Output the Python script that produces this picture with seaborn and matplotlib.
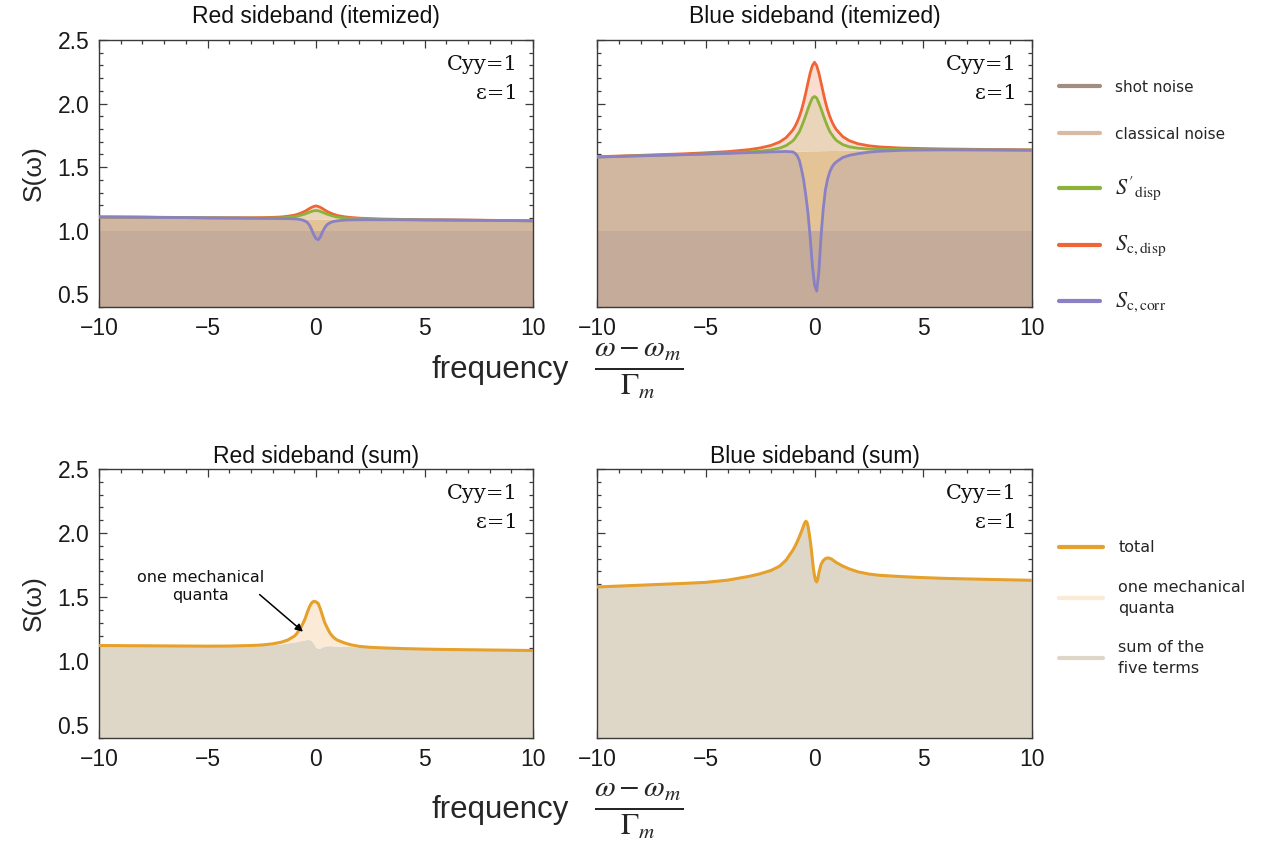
import numpy as np
import matplotlib
matplotlib.use("Agg")
import matplotlib.pyplot as plt
import seaborn as sns
from matplotlib.lines import Line2D
from matplotlib.ticker import MultipleLocator

sns.set_style("white")
plt.rcParams['font.family'] = ['Liberation Sans', 'DejaVu Sans']
plt.rcParams['mathtext.fontset'] = 'stix'
plt.rcParams['axes.unicode_minus'] = True

# ---------------- data ----------------
freq = [-10, -8, -6, -5, -4, -3, -2.5, -2, -1.6, -1.3,
        -1.0, -0.9, -0.8, -0.7, -0.6, -0.5, -0.4, -0.3, -0.2, -0.1,
        0.0, 0.1, 0.2, 0.3, 0.4, 0.5, 0.6, 0.7, 0.8, 0.9,
        1.0, 1.3, 1.6, 2.0, 2.5, 3, 4, 5, 6, 8, 10]

shot_level = 1.0

# Red sideband (itemized)
red_classical = [1.108, 1.106, 1.103, 1.101, 1.100, 1.098, 1.097, 1.096, 1.095, 1.095,
                 1.094, 1.094, 1.094, 1.094, 1.094, 1.093, 1.093, 1.093, 1.093, 1.093,
                 1.093, 1.093, 1.093, 1.092, 1.092, 1.092, 1.092, 1.092, 1.092, 1.092,
                 1.091, 1.091, 1.091, 1.090, 1.089, 1.088, 1.087, 1.085, 1.084, 1.081, 1.078]
red_sdisp_prime = [1.108, 1.106, 1.103, 1.101, 1.100, 1.099, 1.099, 1.100, 1.101, 1.105,
                   1.110, 1.113, 1.117, 1.122, 1.127, 1.132, 1.139, 1.146, 1.152, 1.157,
                   1.159, 1.157, 1.152, 1.145, 1.138, 1.131, 1.125, 1.120, 1.115, 1.111,
                   1.107, 1.101, 1.097, 1.094, 1.091, 1.089, 1.087, 1.085, 1.084, 1.081, 1.078]
red_sc_disp = [1.108, 1.107, 1.104, 1.102, 1.102, 1.102, 1.103, 1.105, 1.108, 1.114,
               1.122, 1.127, 1.132, 1.139, 1.146, 1.154, 1.164, 1.175, 1.184, 1.191,
               1.195, 1.191, 1.184, 1.174, 1.163, 1.153, 1.144, 1.137, 1.130, 1.125,
               1.119, 1.110, 1.104, 1.099, 1.095, 1.092, 1.089, 1.086, 1.085, 1.082, 1.078]
red_sc_corr = [1.108, 1.106, 1.103, 1.101, 1.100, 1.098, 1.097, 1.096, 1.095, 1.095,
               1.093, 1.092, 1.090, 1.087, 1.083, 1.076, 1.065, 1.043, 1.008, 0.968,
               0.938, 0.929, 0.951, 0.991, 1.023, 1.046, 1.058, 1.067, 1.072, 1.076,
               1.078, 1.083, 1.085, 1.086, 1.086, 1.086, 1.086, 1.085, 1.084, 1.081, 1.078]

# Blue sideband (itemized)
blue_classical = [1.580, 1.590, 1.599, 1.604, 1.609, 1.615, 1.618, 1.621, 1.623, 1.625,
                  1.626, 1.626, 1.627, 1.627, 1.627, 1.628, 1.628, 1.628, 1.628, 1.629,
                  1.629, 1.629, 1.629, 1.630, 1.630, 1.630, 1.630, 1.631, 1.631, 1.631,
                  1.631, 1.632, 1.633, 1.634, 1.635, 1.636, 1.637, 1.637, 1.637, 1.636, 1.634]
blue_sdisp_prime = [1.580, 1.590, 1.599, 1.604, 1.611, 1.620, 1.626, 1.636, 1.650, 1.670,
                    1.706, 1.726, 1.752, 1.777, 1.817, 1.861, 1.908, 1.958, 2.004, 2.044,
                    2.056, 2.044, 2.005, 1.960, 1.910, 1.863, 1.820, 1.781, 1.756, 1.731,
                    1.711, 1.677, 1.660, 1.649, 1.643, 1.641, 1.639, 1.637, 1.637, 1.636, 1.634]
blue_sc_disp = [1.582, 1.593, 1.605, 1.613, 1.622, 1.638, 1.651, 1.671, 1.698, 1.733,
                1.791, 1.819, 1.854, 1.896, 1.948, 2.012, 2.085, 2.164, 2.240, 2.298,
                2.325, 2.298, 2.241, 2.166, 2.087, 2.014, 1.951, 1.900, 1.858, 1.824,
                1.796, 1.740, 1.708, 1.684, 1.668, 1.659, 1.650, 1.646, 1.643, 1.639, 1.636]
blue_sc_corr = [1.579, 1.589, 1.598, 1.603, 1.608, 1.614, 1.617, 1.620, 1.622, 1.623,
                1.620, 1.610, 1.592, 1.555, 1.485, 1.400, 1.280, 1.140, 0.950, 0.730,
                0.575, 0.525, 0.675, 0.955, 1.170, 1.320, 1.405, 1.462, 1.500, 1.525,
                1.541, 1.576, 1.593, 1.606, 1.618, 1.625, 1.632, 1.635, 1.636, 1.635, 1.633]

# Red sideband (sum)
red_total = [1.122, 1.120, 1.118, 1.117, 1.118, 1.122, 1.126, 1.135, 1.148, 1.165,
             1.195, 1.212, 1.236, 1.262, 1.295, 1.332, 1.382, 1.425, 1.455, 1.467,
             1.463, 1.450, 1.408, 1.355, 1.302, 1.266, 1.232, 1.206, 1.187, 1.173,
             1.163, 1.143, 1.128, 1.115, 1.108, 1.104, 1.098, 1.094, 1.091, 1.087, 1.083]
red_five_terms = [1.120, 1.118, 1.116, 1.115, 1.116, 1.119, 1.122, 1.128, 1.135, 1.142,
                  1.150, 1.153, 1.156, 1.160, 1.163, 1.166, 1.169, 1.168, 1.158, 1.135,
                  1.108, 1.097, 1.103, 1.112, 1.118, 1.120, 1.121, 1.120, 1.119, 1.118,
                  1.117, 1.116, 1.114, 1.111, 1.106, 1.102, 1.096, 1.092, 1.089, 1.085, 1.081]

# Blue sideband (sum)
freq_fine = [-10, -8, -6, -5, -4, -3, -2.5, -2, -1.6, -1.3,
             -1.0, -0.9, -0.8, -0.7, -0.6, -0.5, -0.45, -0.4, -0.35, -0.3,
             -0.25, -0.2, -0.15, -0.1, -0.05, 0, 0.05, 0.1, 0.15, 0.2,
             0.3, 0.4, 0.5, 0.6, 0.7, 0.8, 1.0, 1.3, 1.6, 2,
             2.5, 3, 4, 5, 6, 8, 10]
blue_total = [1.579, 1.593, 1.607, 1.615, 1.632, 1.662, 1.682, 1.708, 1.742, 1.790,
              1.865, 1.895, 1.930, 1.970, 2.012, 2.058, 2.080, 2.092, 2.085, 2.055,
              2.005, 1.945, 1.880, 1.800, 1.720, 1.668, 1.630, 1.618, 1.640, 1.688,
              1.755, 1.785, 1.800, 1.806, 1.803, 1.795, 1.770, 1.742, 1.720, 1.697,
              1.680, 1.670, 1.660, 1.652, 1.646, 1.638, 1.631]

x_ticks = [-10, -5, 0, 5, 10]
y_ticks = [0.5, 1.0, 1.5, 2.0, 2.5]
titles = ["Red sideband (itemized)", "Blue sideband (itemized)",
          "Red sideband (sum)", "Blue sideband (sum)"]
legend_top = ["shot noise", "classical noise", r"$S'_{\mathrm{disp}}$",
              r"$S_{\mathrm{c,disp}}$", r"$S_{\mathrm{c,corr}}$"]
legend_bottom = ["total", "one mechanical\nquanta", "sum of the\nfive terms"]

# ---------------- styling ----------------
C_SHOT = "#c4ab9a"
C_CLASS = "#d1b6a0"
C_DIP = "#e4c497"
C_GREENFILL = "#ead4ba"
C_PINK = "#f9ddd1"
C_GREEN = "#8db23a"
C_RED = "#f06436"
C_PURPLE = "#8a80c4"
C_SHOT_LEG = "#a38d7e"
C_CLASS_LEG = "#d9bba3"
C_TOTAL = "#e6a02c"
C_QUANTA = "#fbebd6"
C_FIVE = "#ded7c7"
SPINE = "#3a3a3a"

fig = plt.figure(figsize=(12.69, 8.51), dpi=100)
W, H = 1269.0, 851.0

def box(left, top, right, bottom):
    return [left / W, 1 - bottom / H, (right - left) / W, (bottom - top) / H]

ax_tl = fig.add_axes(box(99, 40, 533, 307))
ax_tr = fig.add_axes(box(597, 40, 1032, 307))
ax_bl = fig.add_axes(box(99, 469, 533, 738))
ax_br = fig.add_axes(box(597, 469, 1032, 738))


def style(ax, title, left_labels, top_row):
    ax.set_xlim(-10, 10)
    ax.set_ylim(0.4, 2.5)
    ax.set_xticks(x_ticks)
    ax.set_yticks(y_ticks)
    ax.xaxis.set_minor_locator(MultipleLocator(1))
    ax.yaxis.set_minor_locator(MultipleLocator(0.1))
    ax.tick_params(which='both', direction='in', top=True, right=True,
                   bottom=True, left=True, color=SPINE, width=0.9)
    ax.tick_params(which='major', length=5.5, labelsize=16.5, labelcolor='#1a1a1a')
    ax.tick_params(axis='x', which='major', pad=7)
    ax.tick_params(axis='y', which='major', pad=7)
    ax.tick_params(which='minor', length=3)
    ax.tick_params(labelleft=left_labels)
    for s in ax.spines.values():
        s.set_color(SPINE)
        s.set_linewidth(1.0)
    ax.set_title(title, fontsize=16.5, pad=12 if top_row else 4, color='#111111')
    ax.set_xlabel("")
    if left_labels:
        ax.set_ylabel("S(ω)", fontsize=19, labelpad=8)
    else:
        ax.set_ylabel("")
    ax.text(0.965, 0.91, "Cyy=1", transform=ax.transAxes, ha='right', va='center',
            fontsize=15, family='DejaVu Serif', color='#111111')
    ax.text(0.965, 0.80, "ε=1", transform=ax.transAxes, ha='right', va='center',
            fontsize=15, family='DejaVu Serif', color='#111111')


def itemized(ax, classical, sdp, scd, scc):
    x = np.array(freq)
    cl = np.array(classical)
    sc = np.array(scc)
    ax.fill_between(x, np.maximum(sc, shot_level), cl, where=sc < cl,
                    color=C_DIP, lw=0, zorder=1, interpolate=True)
    ax.fill_between(x, shot_level, np.minimum(sc, cl), color=C_CLASS, lw=0, zorder=1)
    ax.fill_between(x, cl, sdp, color=C_GREENFILL, lw=0, zorder=1)
    ax.fill_between(x, sdp, scd, color=C_PINK, lw=0, zorder=1)
    ax.fill_between(x, 0.4, shot_level, color=C_SHOT, lw=0, zorder=1.5)
    sns.lineplot(x=freq, y=scd, ax=ax, color=C_RED, lw=2.0, estimator=None,
                 sort=False, legend=False, zorder=3)
    sns.lineplot(x=freq, y=sdp, ax=ax, color=C_GREEN, lw=2.0, estimator=None,
                 sort=False, legend=False, zorder=3)
    sns.lineplot(x=freq, y=scc, ax=ax, color=C_PURPLE, lw=2.0, estimator=None,
                 sort=False, legend=False, zorder=4)


itemized(ax_tl, red_classical, red_sdisp_prime, red_sc_disp, red_sc_corr)
itemized(ax_tr, blue_classical, blue_sdisp_prime, blue_sc_disp, blue_sc_corr)

# Red sum
ax_bl.fill_between(freq, 0.4, red_five_terms, color=C_FIVE, lw=0, zorder=1)
ax_bl.fill_between(freq, red_five_terms, red_total, color=C_QUANTA, lw=0, zorder=1)
sns.lineplot(x=freq, y=red_total, ax=ax_bl, color=C_TOTAL, lw=2.2, estimator=None,
             sort=False, legend=False, zorder=3)
ax_bl.text(-5.3, 1.58, "one mechanical\nquanta", ha='center', va='center',
           fontsize=11.5, family='DejaVu Sans', linespacing=1.25, color='#111111')
ax_bl.annotate("", xy=(-0.6, 1.23), xytext=(-2.6, 1.52),
               arrowprops=dict(arrowstyle='-|>', color='black', lw=1.1,
                               mutation_scale=11, shrinkA=0, shrinkB=0))

# Blue sum
ax_br.fill_between(freq_fine, 0.4, blue_total, color=C_FIVE, lw=0, zorder=1)
sns.lineplot(x=freq_fine, y=blue_total, ax=ax_br, color=C_TOTAL, lw=2.2, estimator=None,
             sort=False, legend=False, zorder=3)

style(ax_tl, titles[0], True, True)
style(ax_tr, titles[1], False, True)
style(ax_bl, titles[2], True, False)
style(ax_br, titles[3], False, False)

# x labels
for yc in (370, 810):
    fig.text(500 / W, 1 - yc / H, "frequency", ha='center', va='center', fontsize=22.5)
    fig.text(594 / W, 1 - (yc + 1) / H, r"$\frac{\omega-\omega_m}{\Gamma_m}$",
             ha='left', va='center', fontsize=31)

# legends
h_top = [Line2D([], [], color=c, lw=3) for c in
         (C_SHOT_LEG, C_CLASS_LEG, C_GREEN, C_RED, C_PURPLE)]
leg1 = fig.legend(h_top, legend_top, loc='upper left',
                  bbox_to_anchor=(1045 / W, 1 - 66 / H), frameon=False,
                  handlelength=2.7, handletextpad=1.0, labelspacing=2.1,
                  prop={'family': 'DejaVu Sans', 'size': 11})
for t in leg1.get_texts()[2:]:
    t.set_fontsize(16)

h_bot = [Line2D([], [], color=c, lw=3) for c in (C_TOTAL, C_QUANTA, C_FIVE)]
leg2 = fig.legend(h_bot, legend_bottom, loc='upper left',
                  bbox_to_anchor=(1045 / W, 1 - 526 / H), frameon=False,
                  handlelength=2.7, handletextpad=1.0, labelspacing=1.55,
                  prop={'family': 'DejaVu Sans', 'size': 11.5})
for t in leg2.get_texts():
    t.set_linespacing(1.45)

fig.savefig("out.png", dpi=100)
